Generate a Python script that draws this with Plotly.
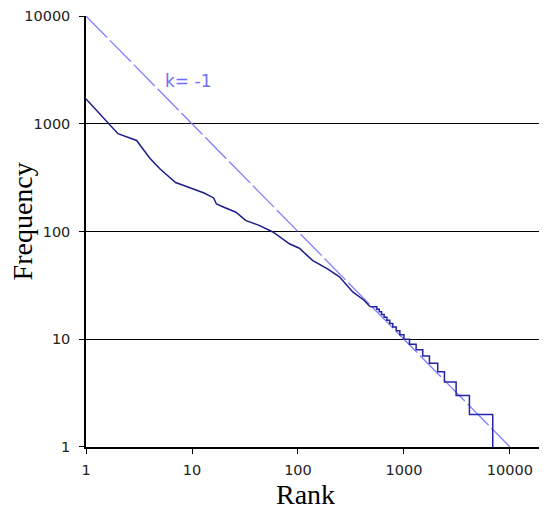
import plotly.graph_objects as go

# ---- data ----
head_rank = [1, 2, 3, 4, 5, 7, 8, 10, 13, 16, 17, 20, 26, 32, 43, 58, 83, 103, 137, 190, 246, 329, 420, 480]
head_freq = [1700, 810, 700, 480, 380, 285, 272, 252, 228, 205, 180, 168, 151, 127, 114, 99, 77, 70, 54, 45, 38, 27.5, 23, 20]

# stepped tail: frequency levels and the last rank holding the level above
tail_freq = [20, 19, 18, 17, 16, 15, 14, 13, 12, 11, 10, 9, 8, 7, 6, 5, 4, 3, 2, 1]
tail_last_rank = [555, 585, 615, 650, 690, 735, 785, 845, 915, 1000, 1127, 1303, 1505, 1740, 2084, 2410, 3107, 4149, 6885]

ref_rank = [1, 10000]
ref_freq = [10000, 1]
ref_label = "k= -1"

x_ticks = [1, 10, 100, 1000, 10000]
x_ticktext = ["1", "10", "100", "1000", "10000"]
y_ticks = [1, 10, 100, 1000, 10000]
y_ticktext = ["1", "10", "100", "1000", "10000"]
grid_vals = [10, 100, 1000]

x_title = "Rank"
y_title = "Frequency"

# ---- figure ----
fig = go.Figure()

fig.add_trace(go.Scatter(
    x=ref_rank, y=ref_freq, mode="lines",
    line=dict(color="#7f7fff", width=1.3, dash="30px,4px"),
    hoverinfo="skip", showlegend=False))

fig.add_trace(go.Scatter(
    x=head_rank, y=head_freq, mode="lines",
    line=dict(color="#1c1c8c", width=1.5),
    showlegend=False))

tail_x = [head_rank[-1]] + tail_last_rank
fig.add_trace(go.Scatter(
    x=tail_x, y=tail_freq, mode="lines",
    line=dict(color="#2424a8", width=1.5, shape="hv"),
    showlegend=False))

tick_font = dict(family="DejaVu Sans", size=14.5, color="#222")

y_range = [-0.0005, 4.001]

fig.update_layout(
    width=547, height=509,
    margin=dict(l=78, r=8, t=8, b=70),
    paper_bgcolor="white", plot_bgcolor="white",
    showlegend=False,
    xaxis=dict(
        type="log", range=[-0.0005, 4.35], automargin=False,
        tickvals=x_ticks, ticktext=x_ticktext,
        ticks="outside", ticklen=5, tickcolor="black", tickwidth=1,
        showline=True, linecolor="black", linewidth=1.5,
        showgrid=False, zeroline=False,
        tickfont=tick_font, ticklabelstandoff=4,
    ),
    yaxis=dict(
        type="log", range=y_range, automargin=False,
        tickvals=y_ticks, ticktext=y_ticktext,
        ticks="outside", ticklen=5, tickcolor="black", tickwidth=1,
        showline=True, linecolor="black", linewidth=1.5,
        showgrid=False, zeroline=False,
        tickfont=tick_font, ticklabelstandoff=6,
    ),
    yaxis2=dict(
        type="log", range=y_range, overlaying="y", side="left", automargin=False,
        tickvals=grid_vals, showticklabels=False, ticks="",
        showgrid=True, gridcolor="black", gridwidth=1.2,
        showline=False, zeroline=False,
    ),
    annotations=[
        dict(text=x_title, xref="paper", yref="paper", x=0.476, y=-0.111,
             xanchor="center", yanchor="middle", showarrow=False,
             font=dict(family="Liberation Serif", size=28, color="black")),
        dict(text=y_title, xref="paper", yref="paper", x=-0.137, y=0.523,
             xanchor="center", yanchor="middle", showarrow=False, textangle=-90,
             font=dict(family="Liberation Serif", size=28, color="black")),
        dict(text=ref_label, xref="x", yref="y", x=0.722, y=3.398,
             xanchor="left", yanchor="middle", showarrow=False,
             font=dict(family="DejaVu Sans", size=17, color="#6f6fff")),
    ],
)

# dummy trace so the grid axis is attached to a subplot
fig.add_trace(go.Scatter(x=[None], y=[None], yaxis="y2", showlegend=False, hoverinfo="skip"))

fig.write_html("out.html")
